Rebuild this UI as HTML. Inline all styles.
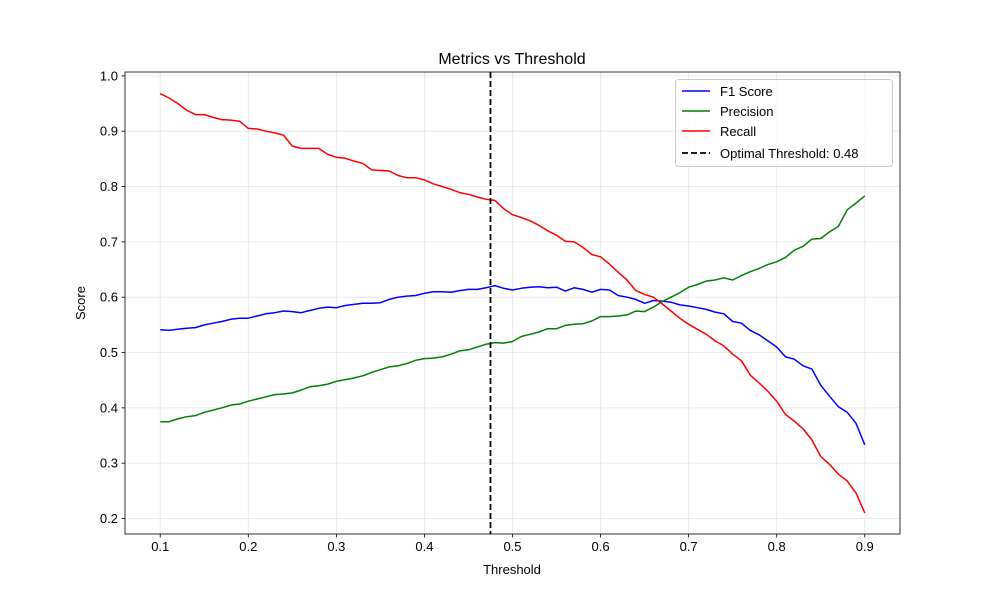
<!DOCTYPE html>
<html><head><meta charset="utf-8"><style>
body{margin:0;background:#fff;}
svg{display:block;font-family:"Liberation Sans","DejaVu Sans",sans-serif;}
</style></head><body>
<svg id="chart" width="1000" height="600"></svg>
<script>
const thresholds=[];for(let i=0;i<=80;i++)thresholds.push(+(0.1+i*0.01).toFixed(2));
const f1=[.541,.540,.542,.544,.545,.550,.553,.556,.560,.562,.562,.566,.570,.572,.575,.574,.572,.576,.580,.582,.581,.585,.587,.589,.589,.590,.596,.600,.602,.603,.607,.610,.610,.609,.612,.614,.614,.617,.621,.616,.613,.616,.618,.619,.617,.618,.611,.617,.614,.609,.614,.613,.603,.600,.596,.589,.594,.593,.591,.586,.584,.581,.578,.573,.570,.556,.553,.540,.532,.521,.510,.492,.488,.476,.470,.441,.421,.402,.392,.372,.333];
const precision=[.375,.375,.380,.384,.386,.392,.396,.400,.405,.407,.412,.416,.420,.424,.425,.427,.432,.438,.440,.443,.448,.451,.454,.458,.464,.469,.474,.476,.480,.486,.489,.490,.492,.497,.503,.505,.510,.515,.518,.517,.520,.529,.533,.537,.543,.543,.549,.551,.552,.557,.565,.565,.566,.568,.575,.574,.582,.592,.600,.608,.618,.623,.629,.631,.635,.631,.639,.646,.652,.659,.664,.672,.685,.692,.705,.706,.718,.728,.758,.770,.783];
const recall=[.968,.960,.950,.938,.930,.930,.925,.921,.920,.918,.905,.904,.900,.897,.893,.873,.869,.869,.869,.858,.853,.851,.846,.842,.830,.829,.828,.820,.816,.816,.812,.805,.800,.795,.789,.786,.781,.777,.775,.760,.749,.744,.738,.730,.720,.712,.701,.700,.690,.677,.673,.660,.645,.631,.612,.605,.600,.588,.575,.562,.551,.542,.533,.521,.512,.497,.485,.459,.445,.430,.412,.388,.376,.362,.342,.312,.298,.280,.268,.246,.210];
const xTicks=[0.1,0.2,0.3,0.4,0.5,0.6,0.7,0.8,0.9];
const yTicks=[0.2,0.3,0.4,0.5,0.6,0.7,0.8,0.9,1.0];
const optimal=0.475;
const L=125,R=900,T=72,B=534,X0=0.06,X1=0.94,Y0=0.172,Y1=1.007;
const sx=v=>L+(v-X0)/(X1-X0)*(R-L);
const sy=v=>B-(v-Y0)/(Y1-Y0)*(B-T);
const svg=document.getElementById('chart');const NS='http://www.w3.org/2000/svg';
function mk(t,a,p){const e=document.createElementNS(NS,t);for(const k in a)e.setAttribute(k,a[k]);(p||svg).appendChild(e);return e;}
mk('rect',{x:0,y:0,width:1000,height:600,fill:'#fff'});
xTicks.forEach(v=>{const g=mk('line',{x1:sx(v),x2:sx(v),y1:T,y2:B,stroke:'#e6e6e6','stroke-width':0.8});


mk('line',{x1:sx(v),x2:sx(v),y1:B,y2:B+3.5,stroke:'#000','stroke-width':0.8});
const t=mk('text',{x:sx(v),y:B+17,'text-anchor':'middle','font-size':13});t.textContent=v.toFixed(1);

});
yTicks.forEach(v=>{const g=mk('line',{x1:L,x2:R,y1:sy(v),y2:sy(v),stroke:'#e6e6e6','stroke-width':0.8});


mk('line',{x1:L-3.5,x2:L,y1:sy(v),y2:sy(v),stroke:'#000','stroke-width':0.8});
const t=mk('text',{x:L-7,y:sy(v)+4.5,'text-anchor':'end','font-size':13});t.textContent=v.toFixed(1);

});
function series(arr,color,name){const d=arr.map((v,i)=>(i?'L':'M')+sx(thresholds[i]).toFixed(1)+' '+sy(v).toFixed(1)).join('');
const p=mk('path',{d:d,fill:'none',stroke:color,'stroke-width':1.5,'stroke-linejoin':'round'});

}
series(f1,'#0000ff','f1-line');series(precision,'#008000','precision-line');series(recall,'#ff0000','recall-line');
const vl=mk('line',{x1:sx(optimal),x2:sx(optimal),y1:T,y2:B,stroke:'#000','stroke-width':1.8,'stroke-dasharray':'6,3'});


mk('rect',{x:L,y:T,width:R-L,height:B-T,fill:'none',stroke:'#000','stroke-width':0.8});
</script>
<svg width="1000" height="600" style="position:absolute;left:0;top:0">
<text x="512" y="64" text-anchor="middle" font-size="16" font-family="Liberation Sans, sans-serif">Metrics vs Threshold</text>
<text x="512" y="574" text-anchor="middle" font-size="13" font-family="Liberation Sans, sans-serif">Threshold</text>
<text x="85" y="303" text-anchor="middle" font-size="13" font-family="Liberation Sans, sans-serif" transform="rotate(-90 85 303)">Score</text>
<g font-family="Liberation Sans, sans-serif" font-size="13">
<rect x="675.5" y="79.5" width="217" height="87" rx="3" fill="#fff" fill-opacity="0.8" stroke="#ccc"/>
<g><line x1="682" x2="710" y1="91" y2="91" stroke="#0000ff" stroke-width="1.5"/><text x="720" y="96">F1 Score</text></g>
<g><line x1="682" x2="710" y1="111" y2="111" stroke="#008000" stroke-width="1.5"/><text x="720" y="116">Precision</text></g>
<g><line x1="682" x2="710" y1="131" y2="131" stroke="#ff0000" stroke-width="1.5"/><text x="720" y="136">Recall</text></g>
<g><line x1="682" x2="710" y1="153" y2="153" stroke="#000" stroke-width="1.8" stroke-dasharray="6,3"/><text x="720" y="158">Optimal Threshold: 0.48</text></g>
</g>
</svg>
</body></html>
